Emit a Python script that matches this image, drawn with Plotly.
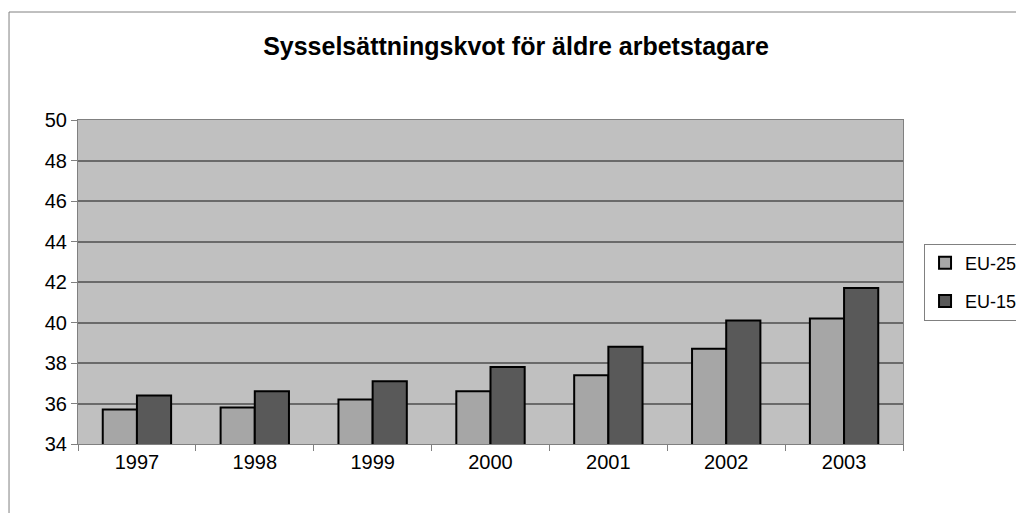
import plotly.graph_objects as go

years = ["1997", "1998", "1999", "2000", "2001", "2002", "2003"]
eu25 = [35.7, 35.8, 36.2, 36.6, 37.4, 38.7, 40.2]
eu15 = [36.4, 36.6, 37.1, 37.8, 38.8, 40.1, 41.7]

font_name = "Liberation Sans, Arial, sans-serif"

fig = go.Figure()
fig.add_trace(go.Bar(x=years, y=eu25, name="EU-25", legendgroup="a",
                     marker=dict(color="#a6a6a6", line=dict(color="black", width=2))))
fig.add_trace(go.Bar(x=years, y=eu15, name="EU-15", legendgroup="b",
                     marker=dict(color="#595959", line=dict(color="black", width=2))))

# Outer chart frame
fig.add_shape(type="rect", xref="paper", yref="paper", x0=-0.0836, x1=1.1442, y0=-0.25, y1=1.3333,
              line=dict(color="#808080", width=1), fillcolor="rgba(0,0,0,0)", layer="below")

# page body has an 8px margin, so the figure is a bit smaller than the window
fig.update_layout(
    width=1016, height=505,
    margin=dict(l=70, r=121, t=112, b=69, autoexpand=False),
    paper_bgcolor="white", plot_bgcolor="#c0c0c0",
    barmode="group", bargap=0.42, bargroupgap=0,
    font=dict(family=font_name, size=20, color="black"),
    title=dict(text="<b>Sysselsättningskvot för äldre arbetstagare</b>", x=0.5, xanchor="center",
               y=1 - 38 / 505, yanchor="middle", yref="container", font=dict(size=25)),
    legend=dict(x=1.0255, y=0.5, xanchor="left", yanchor="middle", bordercolor="#808080", borderwidth=1,
                bgcolor="white", font=dict(size=18), tracegroupgap=12, itemwidth=30),
    showlegend=True,
)
fig.update_xaxes(showline=True, linecolor="#808080", linewidth=1, mirror=True, ticks="outside",
                 tickson="boundaries", ticklen=6, tickcolor="#808080", showgrid=False)
fig.update_yaxes(range=[34, 50], dtick=2, showline=True, linecolor="#808080", linewidth=1, mirror=True,
                 ticks="outside", ticklen=6, tickcolor="#808080", gridcolor="#6a6a6a", gridwidth=1.5,
                 zeroline=False)

fig.write_html("out.html")
